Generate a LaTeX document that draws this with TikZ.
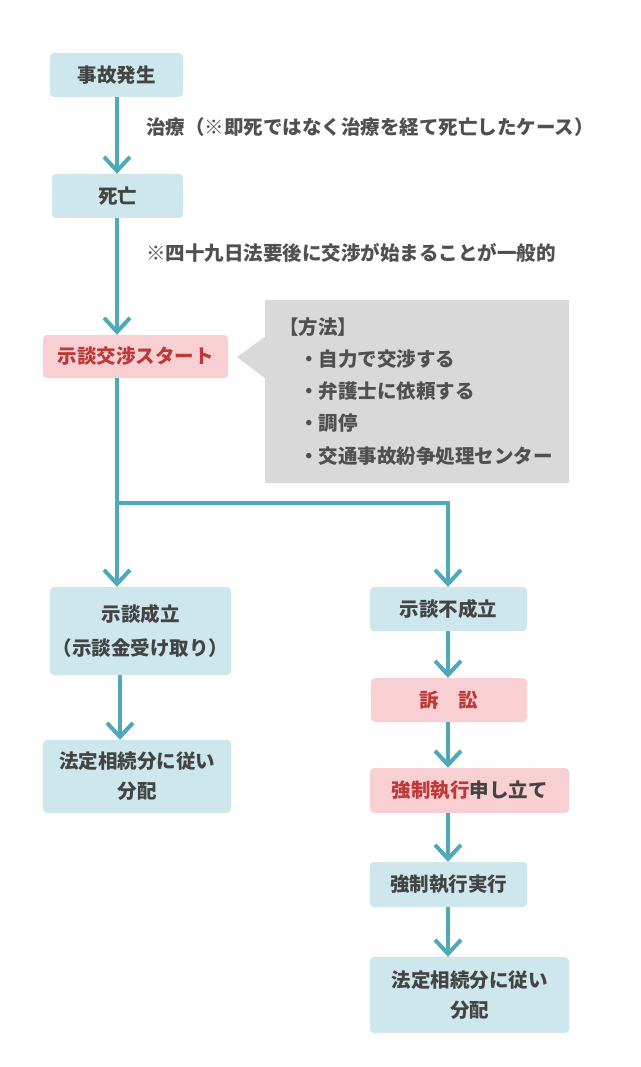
\documentclass[tikz,border=0pt]{standalone}
\usepackage{fontspec}
\setmainfont{Noto Sans CJK JP}
\usetikzlibrary{arrows.meta}
\definecolor{boxblue}{HTML}{CDE7ED}
\definecolor{teal}{HTML}{4FA9BB}
\definecolor{boxpink}{HTML}{F8CFD2}
\definecolor{redtxt}{HTML}{BC3A3A}
\definecolor{graybg}{HTML}{D9D9D9}
\definecolor{txt}{HTML}{444444}
\definecolor{notetxt}{HTML}{505050}
\tikzset{
  bluebox/.style={fill=boxblue, rounded corners=4pt, text=txt, font=\fontsize{19.5}{30}\selectfont\bfseries, align=center, inner sep=0pt},
  pinkbox/.style={fill=boxpink, rounded corners=4pt, text=redtxt, font=\fontsize{19.5}{30}\selectfont\bfseries, align=center, inner sep=0pt},
  note/.style={text=notetxt, font=\fontsize{19.5}{22}\selectfont\bfseries, anchor=west, inner sep=0pt},
  arr/.style={draw=teal, line width=4pt, -{Straight Barb[length=14pt,width=26pt,line width=4pt]}},
  conn/.style={draw=teal, line width=4pt}
}
\begin{document}
\begin{tikzpicture}[x=1pt,y=-1pt]
\useasboundingbox (0,0) rectangle (640,1067);
\fill[white] (0,0) rectangle (640,1067);
% left column
\node[bluebox, minimum width=133pt, minimum height=44pt] (n1) at (116.5,75) {事故発生};
\node[bluebox, minimum width=131pt, minimum height=44pt] (n2) at (117.5,196) {死亡};
\node[note] (l1) at (146,127) {治療（※即死ではなく治療を経て死亡したケース）};
\node[note] (l2) at (146,253) {※四十九日法要後に交渉が始まることが一般的};
\node[pinkbox, minimum width=185pt, minimum height=43pt] (start) at (135.5,356.5) {示談交渉スタート};
% method box
\node[fill=graybg, minimum width=304pt, minimum height=183pt, anchor=north west, inner sep=0pt] (meth) at (265,300) {};
\fill[graybg] (237,357) coordinate (tip) -- (266,336) -- (266,379) -- cycle;
\node[note] (m0) at (279,327) {【方法】};
\node[note] (m1) at (299,359) {・自力で交渉する};
\node[note] (m2) at (299,391) {・弁護士に依頼する};
\node[note] (m3) at (299,423) {・調停};
\node[note] (m4) at (299,456) {・交通事故紛争処理センター};
% outcomes
\node[bluebox, minimum width=181pt, minimum height=88pt] (ok) at (140.5,631) {示談成立\\[4pt]（示談金受け取り）};
\node[bluebox, minimum width=188pt, minimum height=73pt] (fin1) at (137,776.5) {法定相続分に従い\\分配};
\node[bluebox, minimum width=157pt, minimum height=44pt] (ng) at (448.5,609) {示談不成立};
\node[pinkbox, minimum width=156pt, minimum height=44pt] (sosho) at (449,700) {訴　訟};
\node[pinkbox, minimum width=199pt, minimum height=45pt] (moushi) at (469.5,790.5) {強制執行\textcolor{txt}{申し立て}};
\node[bluebox, minimum width=157pt, minimum height=45pt] (jikko) at (448.5,884.5) {強制執行実行};
\node[bluebox, minimum width=199pt, minimum height=76pt] (fin2) at (469.5,995) {法定相続分に従い\\分配};
% connectors
\coordinate (split) at (117,503);
\coordinate (splitR) at (448,503);
\draw[arr] (n1.south -| split) -- (n2.north -| split);
\draw[arr] (n2.south -| split) -- (start.north -| split);
\draw[arr] (start.south -| split) -- (ok.north -| split);
\draw[arr, line join=miter] (split) -- (splitR) -- (ng.north -| splitR);
\draw[arr] (ok.south -| 120,0) -- (fin1.north -| 120,0);
\draw[arr] (ng.south -| splitR) -- (sosho.north -| splitR);
\draw[arr] (sosho.south -| splitR) -- (moushi.north -| splitR);
\draw[arr] (moushi.south -| splitR) -- (jikko.north -| splitR);
\draw[arr] (jikko.south -| splitR) -- (fin2.north -| splitR);
\end{tikzpicture}
\end{document}
